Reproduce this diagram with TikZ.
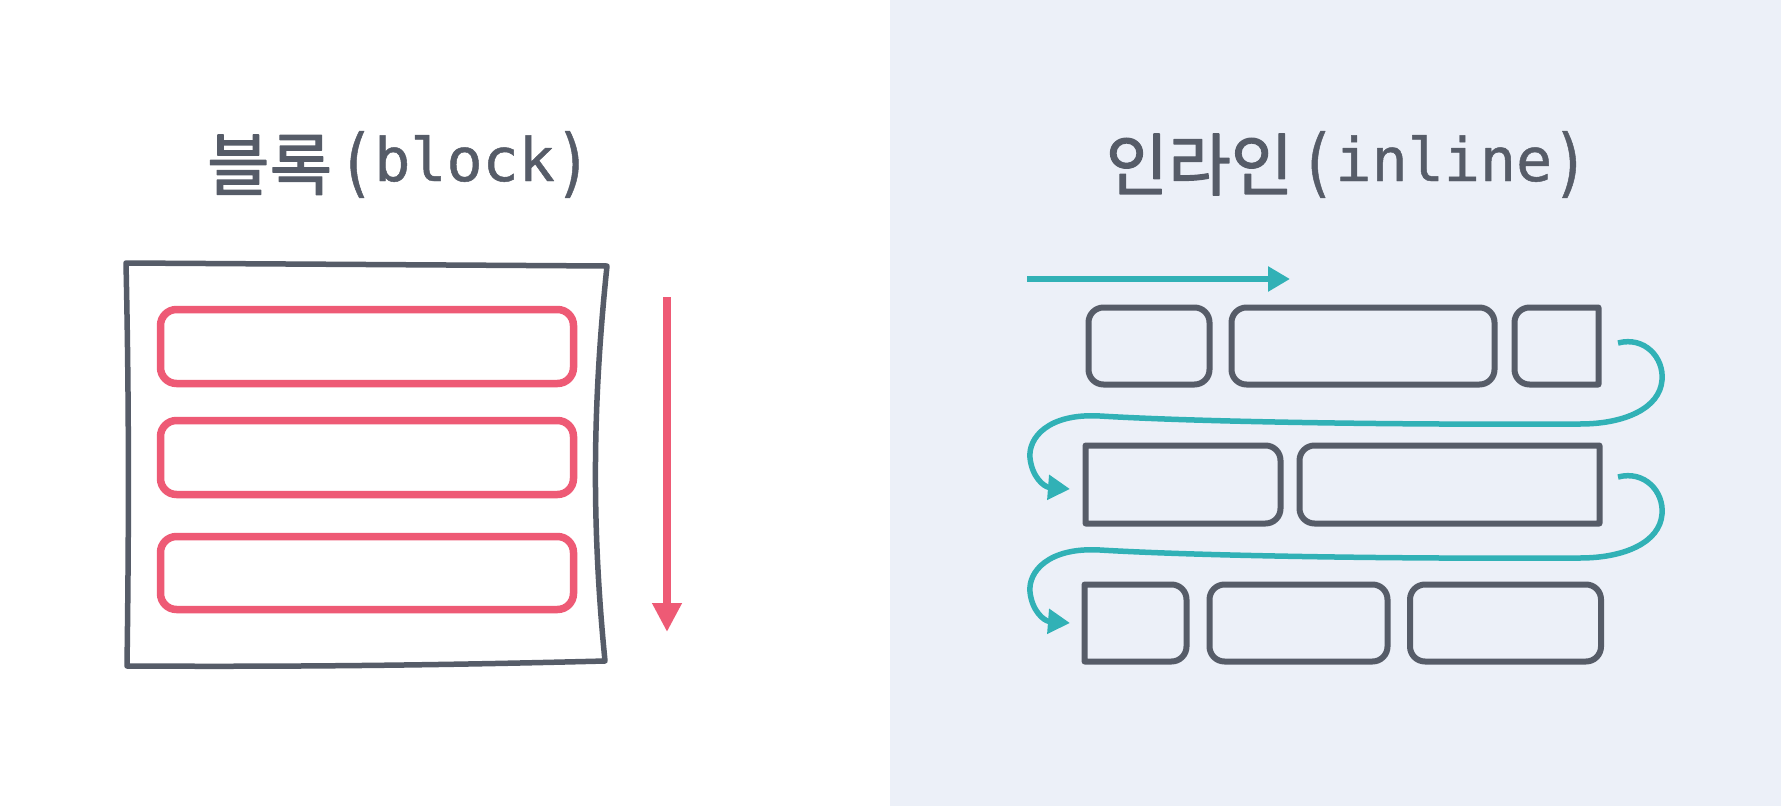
\documentclass[tikz,border=0pt]{standalone}
\usepackage{fontspec}
\usepackage{graphicx}
\newfontfamily\krfont[FakeBold=1.8]{Noto Sans CJK KR}
\newfontfamily\monofont[FakeBold=0.8]{DejaVu Sans Mono}
\usetikzlibrary{arrows.meta}
\definecolor{inkgray}{HTML}{565C68}
\definecolor{blockred}{HTML}{EE5A75}
\definecolor{flowteal}{HTML}{31B1B6}
\definecolor{panelblue}{HTML}{ECF0F8}

% one inline box: x1, y1, x2, y2, left radius, right radius
\newcommand{\rowbox}[6]{%
  \draw[inbox] ({(#1+#3)/2},#2) [rounded corners=#6] -- (#3,#2) -- (#3,#4)
    -- ({(#1+#3)/2},#4) [rounded corners=#5] -- (#1,#4) -- (#1,#2) -- cycle;}
% tall brackets of the title
\newcommand{\tpar}[1]{\raisebox{-7pt}{\scalebox{1}[1.25]{#1}}}

\begin{document}
\begin{tikzpicture}[x=1pt, y=-1pt, line join=round,
	outline/.style={draw=inkgray, line width=5.5pt},
	redbox/.style={draw=blockred, line width=7.5pt, rounded corners=16pt},
	inbox/.style={draw=inkgray, line width=6pt},
	flow/.style={draw=flowteal, line width=5.5pt, -{Triangle[length=22pt, width=24pt]}},
	title/.style={text=inkgray, anchor=base, inner sep=0pt}]
	
	% 1. Nen va kich thuoc
	\def\W{1781}
	\def\H{806}
	\def\split{890}
	\useasboundingbox (0,0) rectangle (\W,\H);
	\fill[white] (0,0) rectangle (\split,\H);
	\fill[panelblue] (\split,0) rectangle (\W,\H);
	
	% 2. Tieu de
	\node[title] (blocktitle) at (399,181)
	{\raisebox{-9pt}{\fontsize{68pt}{72pt}\krfont 블록}\hspace{6pt}{\fontsize{60pt}{64pt}\monofont \tpar{(}block\tpar{)}}};
	\node[title] (inlinetitle) at (1347,181)
	{\raisebox{-9pt}{\fontsize{68pt}{72pt}\krfont 인라인}\hspace{6pt}{\fontsize{60pt}{64pt}\monofont \tpar{(}inline\tpar{)}}};
	
	% 3. Khung block (net ve tay)
	\draw[outline] (126,263) -- (607,266)
	.. controls (593,400) and (591,520) .. (605,661)
	.. controls (450,665) and (300,667) .. (127,666)
	.. controls (129,520) and (129,400) .. cycle;
	
	% cac hop block xep chong
	\foreach \yt/\yb in {309.5/383.5, 420.5/494.5, 536.5/609.5}
	\draw[redbox] (160.5,\yt) rectangle (573.5,\yb);
	
	% mui ten doc
	\coordinate (downstart) at (667,297);
	\coordinate (downend) at (667,632);
	\draw[blockred, line width=7.5pt, -{Triangle[length=29pt, width=28pt]}] (downstart) -- (downend);
	
	% 4. Cac hop inline
	% hang 1
	\rowbox{1088.5}{307.5}{1209.5}{384.5}{15pt}{15pt}
	\rowbox{1231.5}{307.5}{1494.5}{384.5}{15pt}{15pt}
	\rowbox{1514.5}{307.5}{1598.5}{384.5}{15pt}{0.1pt}
	% hang 2
	\rowbox{1085.5}{445.5}{1280.5}{523.5}{0.1pt}{15pt}
	\rowbox{1299.5}{445.5}{1599.5}{523.5}{15pt}{0.1pt}
	% hang 3
	\rowbox{1084.5}{584.5}{1186.5}{661.5}{0.1pt}{15pt}
	\rowbox{1209.5}{584.5}{1387.5}{661.5}{15pt}{15pt}
	\rowbox{1410}{584.5}{1601}{661.5}{15pt}{15pt}
	
	% 5. Mui ten dong chay
	\coordinate (flowstart) at (1027,279);
	\coordinate (flowend) at (1290,279);
	\draw[flow] (flowstart) -- (flowend);
	
	\foreach \dy in {0,134}{
		\draw[flow] (1618,343+\dy)
		.. controls (1645,336+\dy) and (1664,358+\dy) .. (1662,380+\dy)
		.. controls (1660,408+\dy) and (1625,424+\dy) .. (1580,424+\dy)
		.. controls (1400,425+\dy) and (1200,422+\dy) .. (1100,416+\dy)
		.. controls (1048,413+\dy) and (1028,438+\dy) .. (1030,458+\dy)
		.. controls (1032,477+\dy) and (1044,487+\dy) .. (1070,489+\dy);
	}
	
\end{tikzpicture}
\end{document}
